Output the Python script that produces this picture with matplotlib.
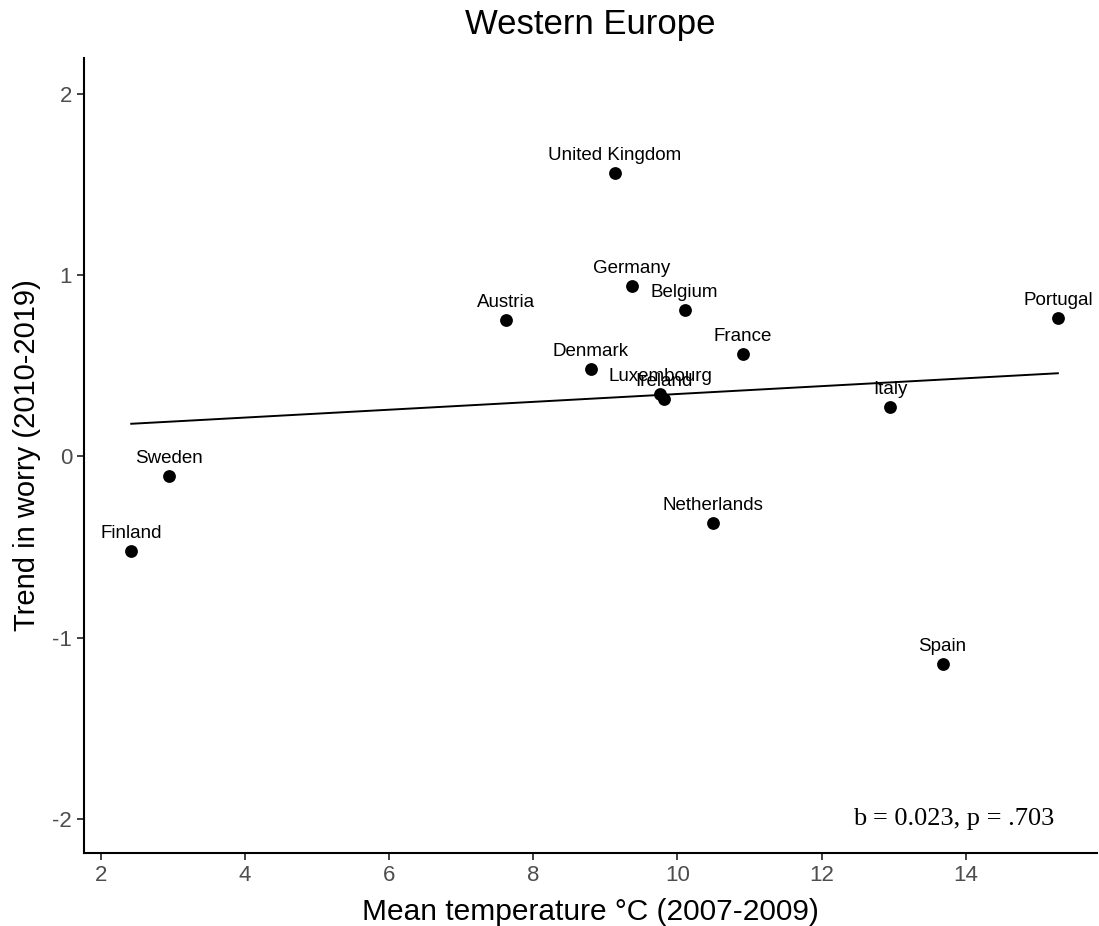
import numpy as np
import matplotlib
matplotlib.use("Agg")
import matplotlib.pyplot as plt

countries = ["United Kingdom", "Germany", "Belgium", "Austria", "Portugal", "France",
             "Denmark", "Luxembourg", "Ireland", "Italy", "Sweden", "Finland",
             "Netherlands", "Spain"]
temperature = [9.13, 9.37, 10.10, 7.62, 15.28, 10.91, 8.80, 9.76, 9.81, 12.95, 2.94, 2.42,
               10.49, 13.68]
worry_trend = [1.563, 0.943, 0.81, 0.755, 0.766, 0.567, 0.484, 0.345, 0.318, 0.274, -0.108,
               -0.523, -0.368, -1.148]
xticks = [2, 4, 6, 8, 10, 12, 14]
yticks = [-2, -1, 0, 1, 2]
stat_text = "b = 0.023, p = .703"

plt.rcParams['font.family'] = ['Liberation Sans', 'DejaVu Sans']

fig = plt.figure(figsize=(10.99, 9.26), dpi=100)
ax = fig.add_axes([0.0764, 0.0788, 0.9216, 0.8586])

x = np.array(temperature)
y = np.array(worry_trend)
ax.scatter(x, y, s=85, color='black', zorder=3, linewidths=0)

slope, intercept = np.polyfit(x, y, 1)
xs = np.array([x.min(), x.max()])
ax.plot(xs, intercept + slope * xs, color='black', lw=1.4, zorder=2)

for name, xi, yi in zip(countries, x, y):
    ax.annotate(name, (xi, yi), xytext=(0, 12.5), textcoords='offset points',
                ha='center', va='center', fontsize=13.5, color='black')

ax.text(13.83, -2.0, stat_text, ha='center', va='center', fontsize=19,
        family=['Liberation Serif', 'DejaVu Serif'])

ax.set_xlim(1.764, 15.82)
ax.set_ylim(-2.19, 2.2)
ax.set_xticks(xticks)
ax.set_yticks(yticks)
ax.set_xticklabels([str(t) for t in xticks])
ax.set_yticklabels([str(t) for t in yticks])
ax.tick_params(axis='both', colors='#333333', labelsize=16, length=5, width=1.3,
               labelcolor='#4D4D4D')
for s in ['top', 'right']:
    ax.spines[s].set_visible(False)
for s in ['left', 'bottom']:
    ax.spines[s].set_linewidth(1.5)
    ax.spines[s].set_color('black')

ax.set_xlabel("Mean temperature °C (2007-2009)", fontsize=21.5, labelpad=9)
ax.set_ylabel("Trend in worry (2010-2019)", fontsize=21, labelpad=8)
ax.set_title("Western Europe", fontsize=25, pad=17)

fig.savefig("out.png", dpi=100)
